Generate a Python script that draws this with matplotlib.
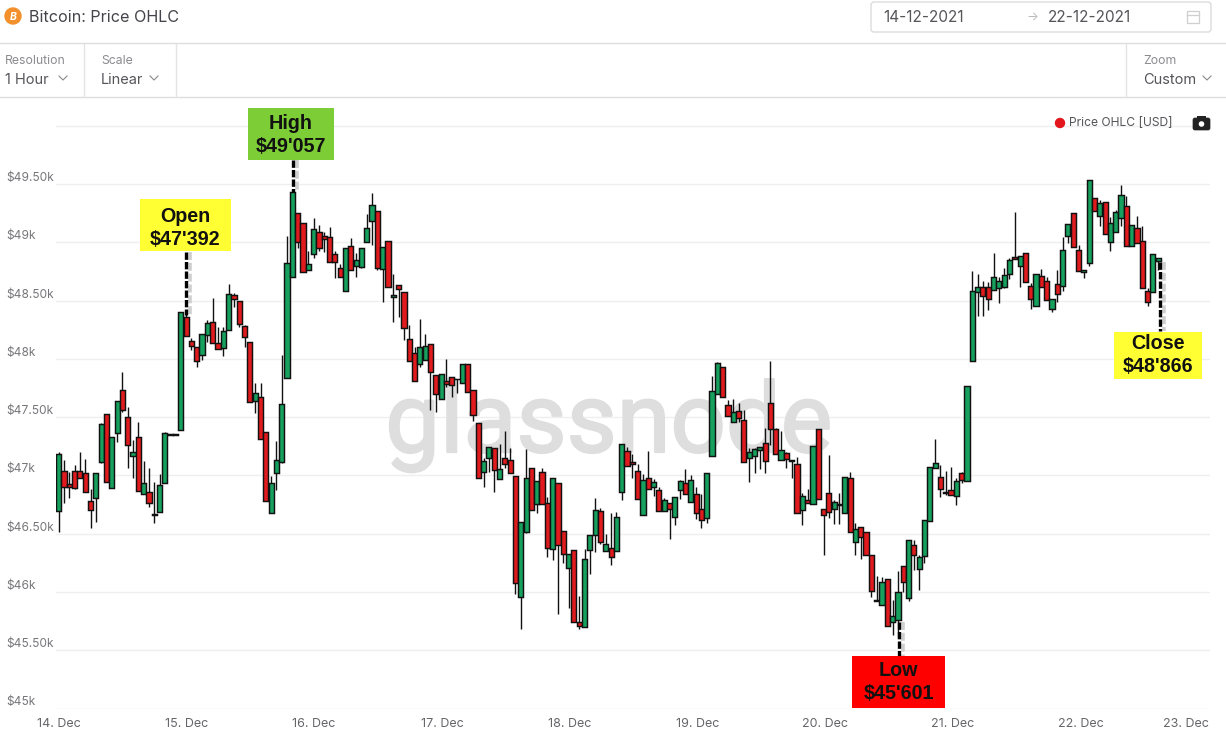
import matplotlib
matplotlib.use("Agg")
import numpy as np
import matplotlib.pyplot as plt
import matplotlib.patheffects as pe
from matplotlib.patches import Rectangle, FancyBboxPatch, Circle

plt.rcParams['font.family'] = ['Inter', 'DejaVu Sans']

# hourly candles, starting 14 Dec 00:00
opens = [46692,47041,46924,47041,47041,47018,46778,46804,47119,47525,46890,47362,
47731,47505,47164,47327,46838,46861,46665,46687,46933,47351,47351,47388,
48357,48151,48106,48031,48206,48320,48134,48091,48246,48552,48495,48280,
48149,47636,47677,47370,46675,47018,47119,47834,48701,49256,49164,48764,
48899,49088,49053,49045,48899,48779,48581,48971,48802,48793,49002,49182,
49274,48770,49016,48530,48633,48573,48175,48055,47955,47989,48132,47860,
47654,47815,47849,47831,47792,47955,47731,47448,47027,47147,47233,46967,
47147,47130,46993,45954,46512,47061,46755,47027,46761,46366,46933,46521,
46203,46358,45740,45697,46358,46486,46692,46349,46380,46349,46855,47207,
47112,47036,46658,46976,46898,46873,46692,46767,46641,46873,46933,46770,
46844,46715,46632,47164,47696,47928,47602,47456,47551,47479,47147,47164,
47216,47282,47619,47396,47130,47190,47130,47096,46701,46792,46752,47402,
46709,46852,46709,46757,46675,46976,46426,46561,46512,46315,45932,45885,
46114,45740,45757,46220,45946,46406,46194,46306,46606,47061,46984,46856,
46878,46821,47018,46950,47980,48575,48615,48615,48592,48606,48615,48727,
48872,48795,48912,48624,48452,48709,48666,48426,48641,48624,49053,49250,
48932,48748,48821,49379,49224,49344,49001,49087,49207,49310,48967,49121,
49010,48586,48575,48838]
highs = [47204,47133,47033,47090,47199,47139,46881,47018,47448,47525,47333,47642,
47888,47591,47305,47456,47124,47061,46941,47013,47376,47357,47357,48406,
48420,48177,48106,48212,48335,48521,48272,48277,48644,48569,48495,48292,
48149,47791,47791,47370,46996,47296,48031,49056,49436,49256,49164,48927,
49208,49151,49094,49136,48928,48813,48950,49036,48908,48956,49245,49423,
49274,48965,49016,48730,48633,48573,48292,48106,48344,48215,48132,47860,
47875,48001,47849,47832,47955,47955,47731,47448,47147,47247,47233,47270,
47382,47233,46993,46598,47227,47061,46950,47064,46818,46976,46933,46521,
46323,46358,45966,46366,46486,46804,46718,46498,46675,46684,47267,47247,
47184,47096,47013,47210,46967,46898,46804,46767,46812,46961,47056,47004,
46901,46841,47018,47854,47971,47928,47648,47654,47619,47562,47233,47239,
47242,47405,47983,47405,47382,47204,47132,47161,46847,46881,47250,47402,
46709,47173,46790,46847,46984,47027,46595,46561,46512,46315,46134,46131,
46114,45931,46180,46220,46449,46446,46318,46621,47070,47310,47090,47041,
47070,46976,47030,47771,48755,48729,48669,48664,48907,48706,48778,48864,
49262,48884,48912,48655,48732,48769,48701,48512,48764,49044,49156,49250,
48978,48767,49533,49379,49365,49344,49221,49279,49493,49399,49147,49227,
49141,48606,48898,48864]
lows = [46518,46761,46804,46881,46976,46855,46552,46604,47110,46947,46890,47290,
47548,47067,46976,46864,46838,46732,46589,46687,46933,47349,47349,47388,
48197,48077,47934,47991,48149,48134,48083,48028,48246,48443,48277,48106,
47628,47539,47313,46778,46675,46875,47104,47834,48701,48955,48747,48764,
48865,48930,48922,48830,48699,48707,48581,48762,48707,48785,49002,48979,
48765,48493,48616,48321,48364,48164,47986,47809,47935,47989,47563,47549,
47654,47763,47677,47706,47792,47715,47470,46976,46904,47033,46861,46967,
47061,47018,45983,45682,46503,46701,46681,46755,46303,46275,45811,46252,
45865,45740,45679,45697,46152,46346,46409,46349,46232,46349,46790,47079,
46981,46795,46658,46881,46824,46692,46692,46458,46575,46801,46838,46770,
46624,46552,46595,47164,47696,47671,47508,47456,47462,47113,46947,47024,
47053,47024,47262,47182,47130,47067,46981,46675,46578,46761,46752,46795,
46320,46632,46586,46586,46675,46512,46320,46283,46315,45960,45924,45885,
45705,45631,45601,45997,45926,46189,46017,46252,46606,47061,46812,46832,
46830,46747,46938,46950,47980,48372,48372,48423,48592,48483,48606,48689,
48855,48621,48658,48432,48452,48615,48506,48406,48486,48586,48998,48958,
48752,48698,48798,49267,49144,49070,48930,49087,49144,48967,48967,48993,
48606,48455,48575,48764]
closes = [47182,46898,46904,46890,46976,46855,46701,47018,47439,46947,47333,47642,
47562,47262,47199,46864,46938,46761,46672,46916,47362,47355,47355,48406,
48197,48109,47980,48212,48312,48134,48083,48237,48555,48512,48297,48186,
47628,47705,47313,46778,46933,47130,47611,48821,49436,49001,48747,48815,
49114,48956,49028,48830,48830,48707,48950,48762,48848,48956,49122,49320,
48779,48965,48616,48553,48604,48264,47986,47809,48106,48115,47892,47697,
47875,47786,47775,47827,47955,47715,47516,46976,47121,47242,47044,47053,
47096,47018,46074,46598,46976,46701,46950,46755,46375,46976,46400,46323,
46323,45740,45705,46280,46486,46701,46426,46409,46297,46641,47267,47079,
47102,46795,46958,46881,46941,46692,46787,46709,46812,46950,46838,46958,
46675,46615,47018,47722,47963,47671,47508,47542,47496,47113,47199,47224,
47242,47121,47396,47182,47216,47139,47124,46675,46821,46761,47250,46795,
46658,46684,46770,46747,46984,46512,46543,46469,46315,46006,45924,46083,
45705,45797,45997,46083,46449,46315,46297,46621,47070,47110,46881,46848,
46830,46955,46958,47771,48581,48621,48538,48512,48706,48672,48724,48847,
48855,48881,48658,48512,48732,48615,48506,48512,48555,48932,49156,48958,
48752,48767,49533,49267,49336,49070,49170,49259,49405,48967,49147,48993,
48606,48486,48898,48864]

day_labels = ["14. Dec","15. Dec","16. Dec","17. Dec","18. Dec","19. Dec","20. Dec","21. Dec","22. Dec","23. Dec"]
price_ticks = [45000,45500,46000,46500,47000,47500,48000,48500,49000,49500,50000]
price_labels = ["$45k","$45.50k","$46k","$46.50k","$47k","$47.50k","$48k","$48.50k","$49k","$49.50k",""]

W, H = 1226, 736
GREEN = "#17a15f"
RED = "#e11b1d"
fig = plt.figure(figsize=(W/100, H/100), dpi=100, facecolor="white")

# chart axes, placed so hour 0 lands near x=59 and 45k at y=708.5
ax = fig.add_axes([56/W, (H-708.5)/H, (1210-56)/W, (708.5-100)/H])
ax.set_xlim(-0.5, 216.75)
ax.set_ylim(45000, 50223)
for s in ax.spines.values():
    s.set_visible(False)
ax.set_yticks(price_ticks)
ax.set_yticklabels(price_labels, ha="left", va="bottom", fontsize=8.6, color="#77777b")
ax.tick_params(axis="y", length=0, pad=36)
ax.set_xticks(np.arange(len(day_labels))*24.05)
ax.set_xticklabels(day_labels, fontsize=9, color="#66666a")
ax.tick_params(axis="x", length=0, pad=7)
ax.get_xticklabels()[-1].set_ha("right")
ax.grid(axis="y", color="#efefef", lw=1)
ax.set_axisbelow(True)

ax.text(0.479, 0.4215, "glassnode", transform=ax.transAxes, ha="center", va="baseline",
        fontsize=70, color="#dedede", family="Roboto", zorder=1,
        path_effects=[pe.withStroke(linewidth=1.6, foreground="#dedede")])

hours = np.arange(len(opens))
o = np.array(opens)
c = np.array(closes)
colors = [GREEN if b >= a else RED for a, b in zip(opens, closes)]
ax.vlines(hours, lows, highs, color="#111111", lw=1.0, zorder=2)
ax.bar(hours, np.abs(c-o), bottom=np.minimum(o, c), width=0.97, color=colors,
       edgecolor="#111111", linewidth=1.05, zorder=3)

# overlay in pixels for the page furniture and the pasted call-outs
ov = fig.add_axes([0, 0, 1, 1], facecolor="none")
ov.set_xlim(0, W)
ov.set_ylim(H, 0)
ov.axis("off")

ov.plot([0, W], [43, 43], color="#dedede", lw=1)
ov.plot([0, W], [97, 97], color="#dedede", lw=1)
for x in [84, 176, 1126]:
    ov.plot([x, x], [44, 97], color="#e4e4e4", lw=1)

ov.add_patch(Circle((13, 16), 8, color="#f2912c"))
ov.text(13, 16.5, "B", color="white", fontsize=7.5, fontweight="bold", style="italic", ha="center", va="center")
ov.text(29, 17, "Bitcoin: Price OHLC", fontsize=11.6, color="#44444a", va="center")

ov.add_patch(FancyBboxPatch((871, 2), 340, 30, boxstyle="round,pad=0,rounding_size=3",
                            fc="white", ec="#dcdcdc", lw=1))
ov.text(883, 17.5, "14-12-2021", fontsize=11, color="#55555a", va="center")
ov.text(1032, 17, "→", fontsize=9, color="#bbbbbb", va="center", ha="center")
ov.text(1048, 17.5, "22-12-2021", fontsize=11, color="#55555a", va="center")
ov.add_patch(Rectangle((1187, 11), 12, 12, fc="none", ec="#cfcfcf", lw=0.9))
ov.plot([1187, 1199], [15, 15], color="#cfcfcf", lw=0.9)


def chevron(x, y):
    ov.plot([x-4, x, x+4], [y-2, y+2, y-2], color="#8a8a8e", lw=0.8)


for x, top, val, cx in [(5, "Resolution", "1 Hour", 63), (101, "Scale", "Linear", 154), (1143, "Zoom", "Custom", 1207)]:
    ov.text(x, 60.5, top, fontsize=8.8, color="#8c8c90", va="center")
    ov.text(x, 79.5, val, fontsize=10.5, color="#55555a", va="center")
    chevron(cx, 78)

ov.add_patch(Circle((1060, 123), 4.5, color="#e3161b"))
ov.text(1069, 123.5, "Price OHLC [USD]", fontsize=8.7, color="#55555a", va="center")
ov.add_patch(FancyBboxPatch((1193, 118), 17, 12, boxstyle="round,pad=0,rounding_size=2", fc="#222222", ec="#222222", lw=0.5))
ov.add_patch(Rectangle((1197, 115.5), 9, 3, fc="#222222", ec="none"))
ov.add_patch(Circle((1201.5, 124), 2.8, fc="white", ec="none"))

# call-outs: box, two-line label and its nudge, dashed leader with its soft shadow
callouts = [
    ((140, 199, 91, 52), "#ffff33", "Open\n$47'392", 3, (185.5, 252), (185.5, 315)),
    ((248, 108, 86, 52), "#7ccd36", "High\n$49'057", 1, (292.5, 160), (292.5, 192)),
    ((1114, 332, 88, 47), "#ffff33", "Close\n$48'866", -0.5, (1160, 262), (1160, 331)),
    ((852, 656, 93, 52), "#ff0000", "Low\n$45'601", 0, (899, 622), (899, 656)),
]
for (x, y, w, h), col, label, nudge, p0, p1 in callouts:
    ov.plot([p0[0]+4, p1[0]+4], [p0[1], p1[1]], color="#cfcfcf", lw=2.6, ls=(0, (2.2, 0.8)), zorder=4)
    ov.plot([p0[0], p1[0]], [p0[1], p1[1]], color="black", lw=2.4, ls=(0, (2.2, 0.65)), zorder=5)
    ov.add_patch(Rectangle((x, y), w, h, fc=col, ec="none", zorder=6))
    ov.text(x+w/2, y+h/2+nudge, label, ha="center", va="center", fontsize=14.2, fontweight="bold",
            family="Liberation Sans", color="#111111", linespacing=1.22, zorder=7)

fig.savefig("out.png", dpi=100)
